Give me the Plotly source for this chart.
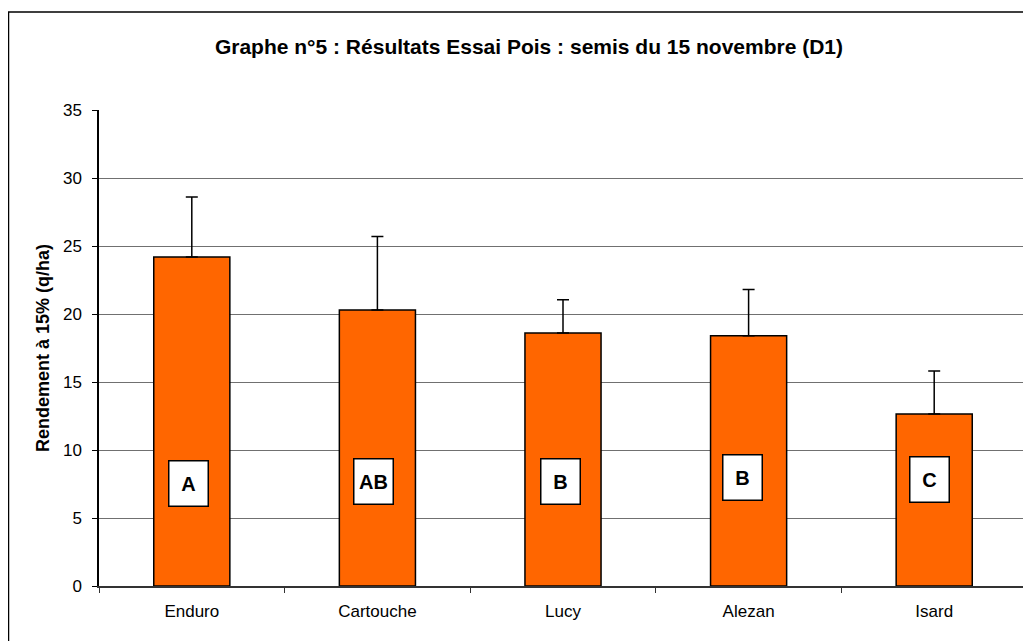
import plotly.graph_objects as go

categories = ["Enduro", "Cartouche", "Lucy", "Alezan", "Isard"]
rendement = [24.2, 20.3, 18.6, 18.4, 12.65]
erreur_plus = [4.4, 5.4, 2.45, 3.4, 3.15]
groupes = ["A", "AB", "B", "B", "C"]
y_ticks = [0, 5, 10, 15, 20, 25, 30, 35]

title_text = "Graphe n°5 : Résultats Essai Pois : semis du 15 novembre (D1)"
y_title = "Rendement à 15% (q/ha)"

FONT = "Liberation Sans, Arial, sans-serif"

# page offset of the html body (default 8px margin)
OFF = 8
W, H = 1031, 641
L, T = 99 - OFF, 110 - OFF
pw, ph = 928, 476
R = W - L - pw
B = H - T - ph

fig = go.Figure()
fig.add_trace(go.Bar(
    x=categories,
    y=rendement,
    marker=dict(color="#FF6600", line=dict(color="black", width=1.5)),
    error_y=dict(type="data", symmetric=False, array=erreur_plus,
                 arrayminus=[0] * len(erreur_plus),
                 color="black", thickness=1.5, width=6),
    width=0.41,
    showlegend=False,
    hoverinfo="x+y",
))

# placement of the letter boxes (style only)
label_level = [7.57, 7.72, 7.72, 7.98, 7.83]
label_shift = [-3, -4, -3, -6, -5]

annotations = []
for cat, g, lv, sh in zip(categories, groupes, label_level, label_shift):
    annotations.append(dict(
        x=cat, y=lv, xref="x", yref="y", text="<b>%s</b>" % g,
        showarrow=False, xshift=sh,
        font=dict(family=FONT, size=20, color="black"),
        bgcolor="white", bordercolor="black", borderwidth=1.5,
        width=38, height=44, borderpad=0,
        align="center", valign="middle",
    ))

# y axis title as rotated annotation
annotations.append(dict(
    x=(43 - OFF - L) / pw, y=0.5, xref="paper", yref="paper",
    text="<b>%s</b>" % y_title, textangle=-90, showarrow=False,
    xanchor="center", yanchor="middle",
    font=dict(family=FONT, size=18, color="black"),
))

shapes = [
    # outer chart border (cut off at right and bottom)
    dict(type="rect", xref="paper", yref="paper",
         x0=(0.5 - L) / pw, x1=1.2, y0=-0.5, y1=1 + (T - (12 - OFF)) / ph,
         line=dict(color="black", width=1.5), fillcolor="rgba(0,0,0,0)", layer="below"),
    # right plot-area border
    dict(type="line", xref="paper", yref="paper", x0=1, x1=1, y0=0, y1=1,
         line=dict(color="#999999", width=1.5)),
]

fig.update_layout(
    width=W, height=H,
    margin=dict(l=L, r=R, t=T, b=B, autoexpand=False),
    paper_bgcolor="white", plot_bgcolor="white",
    font=dict(family=FONT, color="black"),
    title=dict(text="<b>%s</b>" % title_text, x=(529 - OFF) / W, xanchor="center",
               y=1 - (47 - OFF) / H, yanchor="middle", yref="container",
               font=dict(family=FONT, size=21, color="black")),
    annotations=annotations,
    shapes=shapes,
)

fig.update_xaxes(
    showline=True, linecolor="#333333", linewidth=1.5,
    ticks="outside", tickson="boundaries", ticklen=5, tickcolor="#333333",
    tickfont=dict(family=FONT, size=17, color="black"),
    ticklabelstandoff=9,
    showgrid=False,
)
fig.update_yaxes(
    range=[0, 35], tickvals=y_ticks,
    showline=True, linecolor="black", linewidth=1.5,
    ticks="outside", ticklen=5, tickcolor="black",
    tickfont=dict(family=FONT, size=17, color="black"),
    ticklabelstandoff=7,
    showgrid=True, gridcolor="#707070", gridwidth=1,
    zeroline=False,
)

fig.write_html("out.html")
